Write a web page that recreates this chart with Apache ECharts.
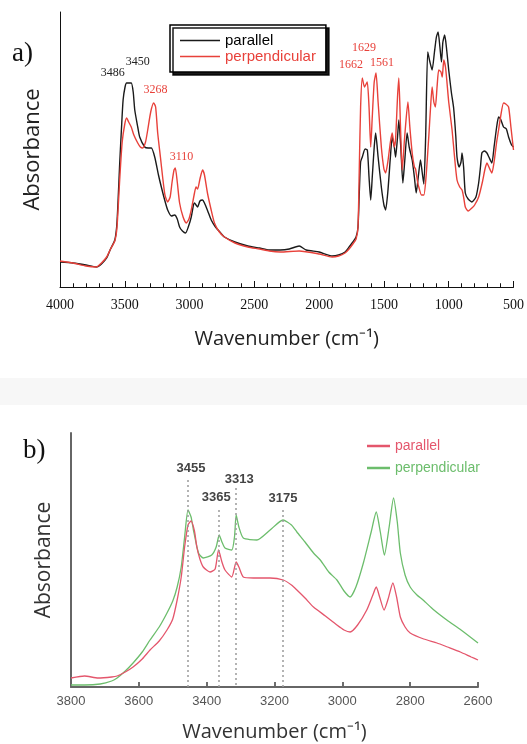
<!DOCTYPE html>
<html>
<head>
<meta charset="utf-8">
<script src="https://cdn.jsdelivr.net/npm/echarts@6/dist/echarts.min.js"></script>
<style>html,body{margin:0;padding:0;background:#fff}#c{width:527px;height:744px}</style>
</head>
<body>
<div id="c"></div>
<script>
// ---------- Panel a) data: [wavenumber, absorbance (arb.)] ----------
var aParallel = [
[4000,25],[3900,24],[3800,22],[3720,20],[3680,23],[3640,29],[3610,38],[3577,47],[3560,65],[3538,127],[3525,160],[3513,187],[3498,200],[3486,204],[3470,204],[3450,204],[3435,195],[3423,177],[3400,160],[3385,150],[3346,140],[3320,139],[3295,139],[3269,130],[3240,112],[3218,100],[3190,86],[3169,77],[3140,71],[3115,72],[3095,68],[3077,60],[3055,56],[3031,54],[3010,60],[2987,70],[2970,82],[2962,84],[2950,82],[2938,80],[2920,86],[2900,87],[2885,84],[2860,76],[2833,67],[2800,60],[2760,54],[2731,50],[2650,45],[2550,41],[2460,39],[2385,37],[2300,37],[2230,38],[2154,41],[2100,37],[2000,35],[1900,31],[1850,32],[1800,35],[1769,40],[1740,45],[1715,50],[1700,60],[1690,95],[1680,125],[1667,130],[1645,138],[1628,137],[1615,110],[1602,87],[1590,110],[1575,140],[1564,154],[1545,130],[1520,100],[1500,82],[1487,77],[1470,95],[1450,130],[1436,150],[1420,140],[1410,130],[1395,150],[1385,167],[1370,140],[1354,104],[1340,125],[1321,154],[1305,140],[1282,127],[1265,110],[1251,94],[1235,110],[1218,127],[1205,115],[1192,103],[1178,150],[1162,235],[1145,225],[1128,217],[1110,235],[1095,250],[1082,255],[1068,240],[1056,225],[1045,245],[1031,252],[1018,240],[1000,217],[980,195],[962,179],[945,150],[936,130],[920,120],[905,125],[897,134],[885,120],[872,94],[850,88],[821,85],[790,90],[769,104],[755,120],[744,134],[725,136],[705,134],[690,130],[667,124],[650,140],[630,160],[615,170],[600,168],[577,160],[555,158],[538,150],[515,142],[500,140]
];
var aPerpendicular = [
[4000,26],[3900,24],[3800,21],[3720,20],[3680,24],[3640,30],[3610,38],[3577,46],[3560,60],[3538,110],[3520,145],[3500,163],[3486,169],[3470,165],[3450,160],[3430,152],[3400,144],[3380,140],[3362,139],[3340,145],[3323,157],[3300,175],[3277,184],[3262,180],[3246,154],[3225,130],[3208,110],[3190,92],[3169,85],[3150,90],[3135,105],[3120,117],[3110,119],[3095,105],[3077,84],[3050,70],[3026,64],[3005,68],[2987,77],[2962,94],[2950,100],[2938,98],[2920,108],[2900,117],[2885,112],[2862,94],[2835,78],[2808,64],[2770,55],[2731,50],[2650,44],[2550,40],[2460,38],[2385,36],[2300,35],[2154,36],[2000,33],[1900,30],[1850,31],[1800,34],[1769,38],[1740,43],[1715,48],[1700,60],[1690,120],[1680,180],[1667,209],[1650,200],[1629,205],[1615,180],[1602,140],[1590,170],[1575,205],[1561,214],[1545,185],[1520,140],[1500,118],[1487,114],[1470,125],[1450,145],[1436,154],[1420,140],[1410,148],[1395,190],[1385,209],[1372,160],[1359,117],[1340,150],[1315,185],[1300,160],[1282,134],[1265,120],[1256,118],[1240,105],[1231,100],[1210,92],[1192,92],[1175,110],[1154,150],[1140,180],[1128,200],[1115,185],[1103,180],[1090,200],[1077,217],[1060,215],[1050,210],[1038,227],[1025,220],[1015,207],[1000,185],[974,157],[955,130],[936,107],[915,100],[897,97],[885,90],[872,80],[850,76],[821,79],[800,82],[769,90],[740,105],[720,118],[705,124],[690,120],[667,114],[650,125],[630,145],[615,157],[600,170],[577,184],[560,183],[538,180],[520,160],[500,137]
];
// peak labels: [label anchor wavenumber, anchor value, text]
var aLabelsBlack = [[3592,214,'3486'],[3400,225,'3450']];
var aLabelsRed = [[3262,197,'3268'],[3062,130,'3110'],[1654,239,'1629'],[1754,222,'1662'],[1515,224,'1561']];
var aTicks = {min:500, max:4000, step:500};

// ---------- Panel b) data ----------
var bParallel = [
[3800,9],[3760,11],[3720,9],[3680,10],[3664,11],[3640,15],[3617,20],[3590,28],[3567,37],[3540,46],[3517,57],[3500,68],[3487,87],[3475,110],[3465,140],[3455,162],[3446,166],[3436,156],[3429,140],[3420,128],[3410,120],[3390,115],[3375,118],[3365,137],[3355,125],[3346,117],[3326,110],[3313,125],[3305,120],[3292,110],[3262,109],[3213,109],[3174,107],[3150,102],[3134,97],[3110,89],[3085,80],[3050,71],[3016,62],[2995,57],[2977,55],[2955,62],[2928,77],[2910,92],[2900,100],[2890,90],[2877,77],[2865,88],[2851,104],[2840,90],[2829,70],[2815,60],[2800,54],[2760,48],[2721,44],[2690,40],[2652,35],[2620,30],[2600,27]
];
var bPerpendicular = [
[3800,2],[3760,2],[3714,3],[3680,6],[3664,9],[3640,16],[3617,24],[3590,35],[3567,47],[3540,60],[3517,74],[3500,86],[3487,100],[3475,120],[3465,150],[3455,177],[3446,170],[3439,157],[3424,134],[3410,129],[3385,132],[3372,140],[3363,152],[3355,145],[3346,139],[3326,137],[3318,150],[3313,172],[3305,160],[3292,149],[3252,147],[3213,157],[3175,167],[3150,162],[3134,155],[3110,145],[3085,134],[3065,127],[3040,115],[3016,107],[2995,96],[2977,90],[2960,100],[2938,124],[2915,155],[2900,175],[2888,155],[2876,132],[2862,160],[2849,189],[2838,165],[2829,134],[2815,112],[2800,100],[2780,92],[2762,87],[2730,77],[2692,67],[2650,57],[2600,44]
];
// marked peaks: [wavenumber, top of guide line, label anchor wavenumber, label anchor value]
var bPeaks = [[3455,207,3446,219],[3365,177,3372,190],[3313,199,3304,208],[3175,177,3175,189]];
var bTicks = {min:2600, max:3800, step:200};

var RED_A = '#e8413a', BLACK_A = '#1a1a1a';
var RED_B = '#e4566c', GREEN_B = '#6cbd6c';

var chart = echarts.init(document.getElementById('c'), null, {renderer:'canvas'});
function plain(v){ return String(v); }
function labelPoints(list, color){
  return list.map(function(l){ return {name:l[2], coord:[l[0], l[1]], label:{color:color}}; });
}

var option = {
  backgroundColor: '#fff',
  animation: false,
  graphic: [
    {type:'rect', shape:{x:0,y:378,width:527,height:27}, style:{fill:'#f7f7f7'}, silent:true}
  ],
  title: [
    {text:'a)', left:12, top:40, padding:0, textStyle:{fontFamily:'Liberation Serif', fontSize:27, fontWeight:'normal', color:'#111'}},
    {text:'b)', left:23, top:437, padding:0, textStyle:{fontFamily:'Liberation Serif', fontSize:27, fontWeight:'normal', color:'#111'}}
  ],
  legend: [
    {
      orient:'vertical', left:170, top:25, padding:[8,10,8,10], itemGap:1,
      itemWidth:40, itemHeight:1.5, icon:'rect', selectedMode:false,
      borderColor:'#000', borderWidth:1.5, backgroundColor:'#fff',
      shadowColor:'rgba(0,0,0,0.9)', shadowOffsetX:3, shadowOffsetY:3, shadowBlur:0,
      textStyle:{fontFamily:'Liberation Sans', fontSize:15, lineHeight:15},
      data:[{name:'parallel', textStyle:{color:'#000'}}, {name:'perpendicular', textStyle:{color:RED_A}}]
    },
    {
      orient:'vertical', left:367, top:439, padding:0, itemGap:8,
      itemWidth:23, itemHeight:2.5, icon:'rect', selectedMode:false,
      textStyle:{fontFamily:'Liberation Sans', fontSize:14},
      formatter:function(n){return n.slice(2);},
      data:[{name:'b parallel', textStyle:{color:RED_B}}, {name:'b perpendicular', textStyle:{color:GREEN_B}}]
    }
  ],
  grid: [
    {left:60, right:12, top:12, height:275},
    {left:71, width:407, top:433, height:254}
  ],
  xAxis: [
    {
      gridIndex:0, type:'value', inverse:true, min:aTicks.min, max:aTicks.max, interval:aTicks.step,
      axisLine:{show:true, onZero:false, lineStyle:{color:'#111', width:1}},
      axisTick:{show:true, inside:true, length:6, lineStyle:{color:'#111', width:1}},
      minorTick:{show:true, splitNumber:5, length:3.5, lineStyle:{color:'#111', width:1}},
      splitLine:{show:false}, minorSplitLine:{show:false},
      axisLabel:{fontFamily:'Liberation Serif', fontSize:14, color:'#111', margin:11, formatter:plain},
      name:'Wavenumber (cm\u207B\u00B9)', nameLocation:'middle', nameGap:42,
      nameTextStyle:{fontFamily:'Open Sans', fontSize:20, color:'#222'}
    },
    {
      gridIndex:1, type:'value', inverse:true, min:bTicks.min, max:bTicks.max, interval:bTicks.step,
      axisLine:{show:true, onZero:false, lineStyle:{color:'#666', width:2}},
      axisTick:{show:true, inside:true, length:5, lineStyle:{color:'#666', width:1.5}},
      splitLine:{show:false},
      axisLabel:{fontFamily:'Liberation Sans', fontSize:13, color:'#555', margin:8, formatter:plain},
      name:'Wavenumber (cm\u207B\u00B9)', nameLocation:'middle', nameGap:35,
      nameTextStyle:{fontFamily:'Open Sans', fontSize:20, color:'#333'}
    },
    // tick-only overlays sharing the same scales
    {
      gridIndex:0, type:'value', position:'bottom', offset:0, inverse:true, min:aTicks.min, max:aTicks.max, interval:aTicks.step,
      axisLine:{show:false, onZero:false},
      axisTick:{show:true, inside:true, length:6, lineStyle:{color:'#111', width:1}},
      minorTick:{show:true, splitNumber:5, length:3.5, lineStyle:{color:'#111', width:1}},
      axisLabel:{show:false}, splitLine:{show:false}, minorSplitLine:{show:false}
    },
    {
      gridIndex:1, type:'value', position:'bottom', offset:0, inverse:true, min:bTicks.min, max:bTicks.max, interval:bTicks.step,
      axisLine:{show:false, onZero:false},
      axisTick:{show:true, inside:true, length:5, lineStyle:{color:'#666', width:1.5}},
      axisLabel:{show:false}, splitLine:{show:false}
    }
  ],
  yAxis: [
    {
      gridIndex:0, type:'value', min:0, max:275,
      axisLine:{show:true, onZero:false, lineStyle:{color:'#111', width:1}},
      axisTick:{show:false}, axisLabel:{show:false}, splitLine:{show:false},
      name:'Absorbance', nameLocation:'middle', nameGap:16,
      nameTextStyle:{fontFamily:'Open Sans', fontSize:22, color:'#222'}
    },
    {
      gridIndex:1, type:'value', min:0, max:254,
      axisLine:{show:true, onZero:false, lineStyle:{color:'#666', width:2}},
      axisTick:{show:false}, axisLabel:{show:false}, splitLine:{show:false},
      name:'Absorbance', nameLocation:'middle', nameGap:16,
      nameTextStyle:{fontFamily:'Open Sans', fontSize:21, color:'#333'}
    }
  ],
  series: [
    {name:'parallel', type:'line', xAxisIndex:0, yAxisIndex:0, data:aParallel, showSymbol:false, smooth:0.2,
     lineStyle:{color:BLACK_A, width:1.4}, itemStyle:{color:BLACK_A},
     markPoint:{symbol:'circle', symbolSize:0, silent:true,
       label:{show:true, position:'inside', formatter:'{b}', fontFamily:'Liberation Serif', fontSize:12},
       data:labelPoints(aLabelsBlack, '#222')}},
    {name:'perpendicular', type:'line', xAxisIndex:0, yAxisIndex:0, data:aPerpendicular, showSymbol:false, smooth:0.2,
     lineStyle:{color:RED_A, width:1.4}, itemStyle:{color:RED_A},
     markPoint:{symbol:'circle', symbolSize:0, silent:true,
       label:{show:true, position:'inside', formatter:'{b}', fontFamily:'Liberation Serif', fontSize:12},
       data:labelPoints(aLabelsRed, RED_A)}},
    {name:'b perpendicular', type:'line', xAxisIndex:1, yAxisIndex:1, data:bPerpendicular, showSymbol:false, smooth:0.2,
     lineStyle:{color:GREEN_B, width:1.3}, itemStyle:{color:GREEN_B},
     markLine:{symbol:'none', silent:true, label:{show:false},
       lineStyle:{color:'#9a9a9a', width:1.5, type:[2,3]},
       data:bPeaks.map(function(p){return [{coord:[p[0],p[1]]},{coord:[p[0],0]}];})}},
    {name:'b parallel', type:'line', xAxisIndex:1, yAxisIndex:1, data:bParallel, showSymbol:false, smooth:0.2,
     lineStyle:{color:RED_B, width:1.3}, itemStyle:{color:RED_B},
     markPoint:{symbol:'circle', symbolSize:0, silent:true,
       label:{show:true, position:'inside', formatter:'{b}', fontFamily:'Liberation Sans', fontWeight:'bold', fontSize:13, color:'#444'},
       data:bPeaks.map(function(p){return {name:String(p[0]), coord:[p[2],p[3]]};})}}
  ]
};
chart.setOption(option);
</script>
</body>
</html>
